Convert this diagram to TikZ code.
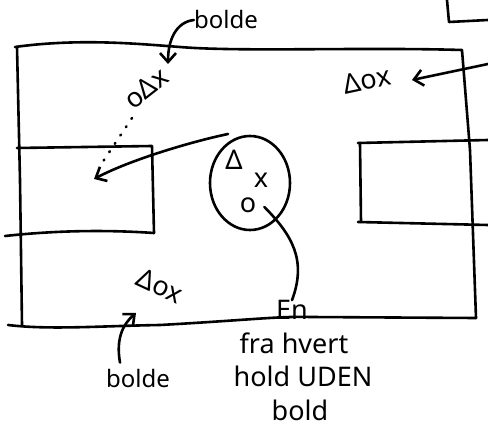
\documentclass[tikz,border=0pt]{standalone}
\usepackage{fontspec}
\setmainfont{Noto Sans}
\usetikzlibrary{arrows.meta,shapes.geometric}
\begin{document}
\begin{tikzpicture}[x=1pt,y=-1pt,
  pen/.style={line width=2.6pt,line cap=round,line join=round},
  hand/.style={font=\fontsize{24}{26}\selectfont, inner sep=0pt},
  bighand/.style={font=\fontsize{27}{29}\selectfont, inner sep=0pt},
  tipped/.style={-{Straight Barb[length=9pt,width=16pt,line width=2.6pt]}}]
\useasboundingbox[fill=white] (0,0) rectangle (488,444);
% field outline
\draw[pen] (15,47) .. controls (80,38) and (140,44) .. (180,47) .. controls (240,52) and (360,47) .. (462,50)
  -- (470,150) -- (476,318);
\draw[pen] (17,47) -- (20,180) -- (22,325);
\draw[pen] (8,325) .. controls (50,330) and (100,326) .. (160,325) .. controls (250,320) and (280,316) .. (310,317) -- (476,318);
% penalty boxes
\draw[pen] (17,148) -- (152,146) -- (154,233);
\draw[pen] (5,236) .. controls (60,230) and (110,230) .. (154,233);
\draw[pen] (358,143) -- (488,140);
\draw[pen] (360,143) -- (361,222);
\draw[pen] (358,222) -- (488,225);
% partial box top right
\draw[pen] (447,0) -- (449,22) -- (488,20);
% texts
\node[hand] (bolde1) at (226,20) {bolde};
\node[bighand,rotate=38] (oax) at (146,88) {oΔx};
\node[bighand,rotate=12] (dox) at (367,80) {Δox};
\coordinate (rin) at (488,64);
\coordinate (rtip) at (412,80);
\coordinate (btip) at (168,64);
\draw[pen,tipped] (bolde1.west) .. controls (176,22) and (168,40) .. (btip);
\draw[pen,tipped] (rin) -- (rtip);
% dotted pass and pass arrow
\coordinate (passtip) at (94,179);
\coordinate (passstart) at (228,134);
\draw[pen,dash pattern=on 1pt off 9pt] (132,118) -- (100,166);
\draw[pen,tipped] (passstart) .. controls (190,142) and (130,160) .. (passtip);
% circled group
\node[pen,draw,ellipse,minimum width=80pt,minimum height=94pt] (grp) at (250,183) {};
\node[bighand] (gd) at (234,160) {Δ};
\node[bighand] (gx) at (261,180) {x};
\node[bighand] (go) at (248,205) {o};
% bottom group
\node[bighand,rotate=-25] (box) at (160,286) {Δox};
% label en fra hvert
\node[bighand] (en) at (292,310) {En};
\node[bighand] (fra) at (294,343) {fra hvert};
\node[bighand] (hold) at (303,376) {hold UDEN};
\node[bighand] (bold) at (300,410) {bold};
\draw[pen] (go.east) ++(8,2) .. controls (292,235) and (307,260) .. (en.north);
% bottom bolde
\node[hand] (bolde2) at (138,378) {bolde};
\coordinate (b2tip) at (136,313);
\draw[pen,tipped] (bolde2.north) ++(-18,-6) .. controls (116,340) and (122,325) .. (b2tip);
\end{tikzpicture}
\end{document}
